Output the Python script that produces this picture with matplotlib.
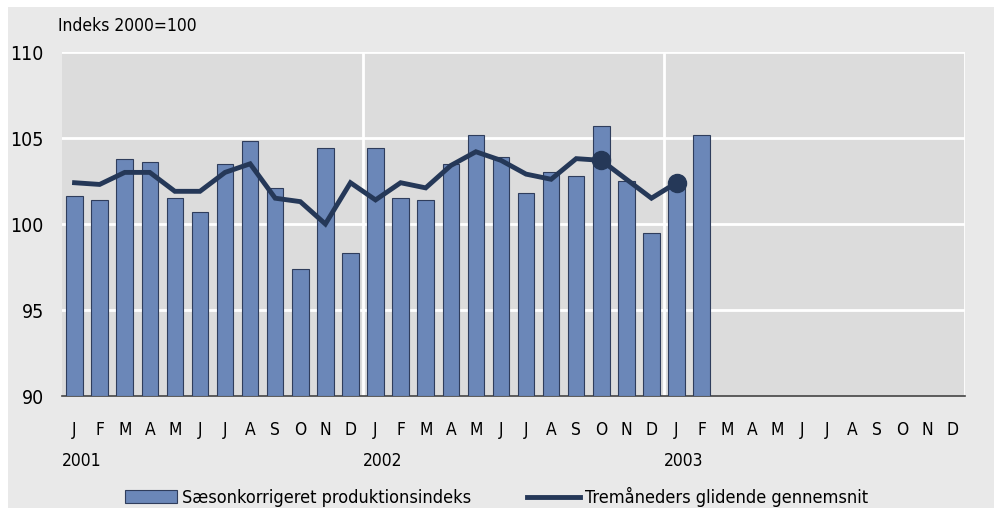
import numpy as np
import matplotlib.pyplot as plt
from matplotlib.patches import Rectangle

# months shown on the axis (three years, only 26 with data)
month_labels = ['J', 'F', 'M', 'A', 'M', 'J', 'J', 'A', 'S', 'O', 'N', 'D'] * 3
years = ['2001', '2002', '2003']

# seasonally adjusted production index (Jan 2001 - Feb 2003)
index_values = [101.6, 101.4, 103.8, 103.6, 101.5, 100.7, 103.5, 104.8, 102.1, 97.4, 104.4, 98.3,
                104.4, 101.5, 101.4, 103.5, 105.2, 103.9, 101.8, 103.0, 102.8, 105.7, 102.5, 99.5,
                102.2, 105.2]
# three month moving average (Jan 2001 - Jan 2003)
moving_avg = [102.4, 102.3, 103.0, 103.0, 101.9, 101.9, 103.0, 103.5, 101.5, 101.3, 100.0, 102.4,
              101.4, 102.4, 102.1, 103.4, 104.2, 103.7, 102.9, 102.6, 103.8, 103.7, 102.6, 101.5,
              102.4]
marked_months = [21, 24]  # Oct 2002, Jan 2003

bar_color = '#6b87b8'
line_color = '#253858'

plt.rcParams['font.family'] = ['Liberation Sans Narrow', 'DejaVu Sans']
plt.rcParams['font.stretch'] = 'condensed'

fig = plt.figure(figsize=(9.95, 5.08), dpi=100, facecolor='#e9e9e9')

# white strip along the top and left edge
fig.patches.append(Rectangle((0, 1 - 7 / 508), 1, 7 / 508, transform=fig.transFigure,
                             facecolor='white', edgecolor='none'))
fig.patches.append(Rectangle((0, 0), 8 / 995, 1, transform=fig.transFigure,
                             facecolor='white', edgecolor='none'))

ax = fig.add_axes([62 / 995, 1 - 396 / 508, 903 / 995, 344 / 508])
ax.set_facecolor('#dcdcdc')

x = np.arange(len(month_labels))
bars = ax.bar(x[:len(index_values)], np.array(index_values) - 90, bottom=90, width=0.66,
              color=bar_color, edgecolor='#2f3d5c', linewidth=0.8, zorder=3)
line, = ax.plot(x[:len(moving_avg)], moving_avg, color=line_color, linewidth=3.5, zorder=4,
                solid_joinstyle='miter')
ax.plot(marked_months, [moving_avg[i] for i in marked_months], 'o', color=line_color,
        markersize=13, zorder=5)

ax.set_xlim(-0.5, len(month_labels) - 0.5)
ax.set_ylim(90, 110)
ax.set_yticks([90, 95, 100, 105, 110])
ax.set_yticklabels(['90', '95', '100', '105', '110'], fontsize=14)
ax.set_xticks(x)
ax.set_xticklabels(month_labels, fontsize=12.5)
ax.tick_params(length=0, pad=13)
ax.tick_params(axis='x', pad=18)

# white grid
for yv in [95, 100, 105, 110]:
    ax.axhline(yv, color='white', linewidth=2, zorder=1)
for xv in [11.5, 23.5, 35.5]:
    ax.axvline(xv, color='white', linewidth=2, zorder=1)

for s in ['top', 'right', 'left']:
    ax.spines[s].set_visible(False)
ax.spines['bottom'].set_color('#444444')
ax.spines['bottom'].set_linewidth(1.2)

# year labels under the January ticks
for i, yr in enumerate(years):
    ax.text(-0.5 + 12 * i, -0.19, yr, transform=ax.get_xaxis_transform(),
            ha='left', va='center', fontsize=12.5)

fig.text(58 / 995, 1 - 26 / 508, 'Indeks 2000=100', fontsize=12.5, va='center')

fig.legend([bars, line], ['Sæsonkorrigeret produktionsindeks', 'Tremåneders glidende gennemsnit'],
           loc='center', bbox_to_anchor=(0.499, 1 - 497 / 508), ncol=2, frameon=False,
           fontsize=13, handlelength=2.9, columnspacing=3.1, handletextpad=0.28)

fig.savefig('out.png', dpi=100, facecolor=fig.get_facecolor())
